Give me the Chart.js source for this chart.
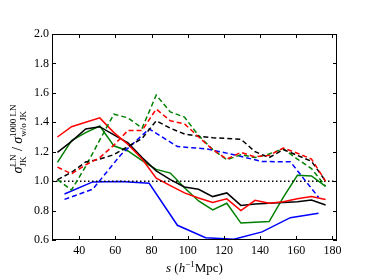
<!DOCTYPE html>
<html>
<head>
<meta charset="utf-8">
<script src="https://cdn.jsdelivr.net/npm/chart.js@4"></script>
<style>
  html, body { margin: 0; padding: 0; background: #fff; }
  #wrap { width: 374px; height: 280px; }
</style>
</head>
<body>
<div id="wrap"><canvas id="sigmaChart" width="374" height="280"></canvas></div>
<script>
// separation bins (fine and coarse binning)
const sFine = [28, 35.8, 43.6, 51.4, 59.2, 67, 74.8, 82.6, 90.4, 98.2, 106, 113.8, 121.6, 129.4, 137.2, 145, 152.8, 160.6, 168.4, 176.2];
const sCoarse = [31.9, 47.5, 63.1, 78.7, 94.3, 109.9, 125.5, 141.1, 156.7, 172.3];

// ratio sigma_JK / sigma_w/o JK, solid curves
const redSolid   = [1.30, 1.37, 1.40, 1.43, 1.33, 1.25, 1.15, 1.02, 0.97, 0.92, 0.885, 0.855, 0.88, 0.80, 0.87, 0.85, 0.86, 0.88, 0.895, 0.875];
const blackSolid = [1.195, 1.27, 1.355, 1.37, 1.315, 1.26, 1.16, 1.07, 1.01, 0.96, 0.945, 0.895, 0.92, 0.835, 0.845, 0.85, 0.855, 0.86, 0.872, 0.838];
const greenSolid = [1.128, 1.275, 1.33, 1.375, 1.24, 1.205, 1.14, 1.08, 1.055, 0.955, 0.865, 0.805, 0.85, 0.715, 0.72, 0.725, 0.89, 1.04, 1.035, 0.965];
const blueSolid  = [0.913, 0.995, 0.997, 0.985, 0.70, 0.615, 0.605, 0.655, 0.752, 0.782];

// dashed curves
const redDashed   = [1.095, 1.05, 1.11, 1.16, 1.245, 1.345, 1.345, 1.49, 1.41, 1.39, 1.30, 1.215, 1.15, 1.195, 1.165, 1.175, 1.225, 1.19, 1.15, 1.0];
const blackDashed = [1.01, 1.06, 1.13, 1.15, 1.18, 1.235, 1.29, 1.41, 1.36, 1.32, 1.305, 1.295, 1.29, 1.285, 1.20, 1.16, 1.215, 1.175, 1.135, 1.0];
const greenDashed = [1.01, 0.94, 1.10, 1.28, 1.455, 1.43, 1.36, 1.585, 1.47, 1.435, 1.31, 1.215, 1.145, 1.18, 1.16, 1.185, 1.22, 1.15, 1.085, 0.965];
const blueDashed  = [0.876, 0.945, 1.18, 1.355, 1.235, 1.22, 1.18, 1.133, 1.132, 0.89];

// axes
const xRange = [25, 182.5];
const yRange = [0.6, 2.0];
const xTicks = [40, 60, 80, 100, 120, 140, 160, 180];
const yTicks = [0.6, 0.8, 1.0, 1.2, 1.4, 1.6, 1.8, 2.0];
const refLevel = 1.0;

const SERIF = "'Liberation Serif', 'DejaVu Serif', serif";

function pts(xs, ys) {
    return ys.map((y, i) => ({ x: xs[i], y: y }));
}

function line(xs, ys, color, dash) {
    return {
        data: pts(xs, ys),
        borderColor: color,
        borderWidth: 1.5,
        borderDash: dash || [],
        pointRadius: 0,
        showLine: true,
        tension: 0,
        fill: false
    };
}

// inward ticks on all four sides, box, and axis titles
const frame = {
    id: 'frame',
    afterDraw(chart) {
        const ctx = chart.ctx;
        const a = chart.chartArea;
        const xs = chart.scales.x, ys = chart.scales.y;
        ctx.save();
        ctx.strokeStyle = '#000';
        ctx.lineWidth = 1;
        ctx.strokeRect(a.left + 0.5, a.top + 0.5, a.right - a.left - 1, a.bottom - a.top - 1);
        const tl = 4;
        ctx.beginPath();
        xTicks.forEach(v => {
            const px = Math.round(xs.getPixelForValue(v)) + 0.5;
            ctx.moveTo(px, a.bottom); ctx.lineTo(px, a.bottom - tl);
            ctx.moveTo(px, a.top); ctx.lineTo(px, a.top + tl);
        });
        yTicks.forEach(v => {
            const py = Math.round(ys.getPixelForValue(v)) + 0.5;
            ctx.moveTo(a.left, py); ctx.lineTo(a.left + tl, py);
            ctx.moveTo(a.right, py); ctx.lineTo(a.right - tl, py);
        });
        ctx.stroke();

        ctx.fillStyle = '#000';
        ctx.textBaseline = 'alphabetic';

        // x title: s (h^-1 Mpc)
        const big = '13px ' + SERIF, bigIt = 'italic 13px ' + SERIF, small = '9px ' + SERIF;
        const xParts = [
            { t: 's', f: bigIt, dy: 0 },
            { t: ' (', f: big, dy: 0 },
            { t: 'h', f: bigIt, dy: 0 },
            { t: '\u22121', f: small, dy: -5 },
            { t: 'Mpc)', f: big, dy: 0 }
        ];
        let w = 0;
        xParts.forEach(p => { ctx.font = p.f; p.w = ctx.measureText(p.t).width; w += p.w; });
        let cx = (a.left + a.right) / 2 - w / 2;
        const base = 272;
        xParts.forEach(p => { ctx.font = p.f; ctx.fillText(p.t, cx, base + p.dy); cx += p.w; });

        // y title: sigma^LN_JK / sigma^{1000 LN}_{w/o JK}
        const sig = 'italic 14px ' + SERIF, scr = '9px ' + SERIF;
        const groups = [
            { main: '\u03c3', sup: 'LN', sub: 'JK' },
            { main: ' / ', sup: '', sub: '' },
            { main: '\u03c3', sup: '1000 LN', sub: 'w/o JK' }
        ];
        let tw = 0;
        groups.forEach(g => {
            ctx.font = g.main === ' / ' ? '14px ' + SERIF : sig;
            g.mw = ctx.measureText(g.main).width;
            ctx.font = scr;
            g.sw = Math.max(ctx.measureText(g.sup).width, ctx.measureText(g.sub).width);
            tw += g.mw + g.sw;
        });
        ctx.translate(22, (a.top + a.bottom) / 2 + 2);
        ctx.rotate(-Math.PI / 2);
        let gx = -tw / 2;
        groups.forEach(g => {
            ctx.font = g.main === ' / ' ? '14px ' + SERIF : sig;
            ctx.fillText(g.main, gx, 0);
            gx += g.mw;
            ctx.font = scr;
            if (g.sup) ctx.fillText(g.sup, gx, -6);
            if (g.sub) ctx.fillText(g.sub, gx, 4);
            gx += g.sw;
        });
        ctx.restore();
    }
};

const ctx = document.getElementById('sigmaChart').getContext('2d');
const sigmaChart = new Chart(ctx, {
    type: 'scatter',
    data: {
        datasets: [
            line(sFine, redDashed, '#ff0000', [5, 3]),
            line(sFine, blackDashed, '#000000', [5, 3]),
            line(sFine, greenDashed, '#008000', [5, 3]),
            line(sCoarse, blueDashed, '#0000ff', [5, 3]),
            line(xRange, [refLevel, refLevel], '#000000', [1.5, 2.5]),
            line(sFine, redSolid, '#ff0000'),
            line(sFine, blackSolid, '#000000'),
            line(sFine, greenSolid, '#008000'),
            line(sCoarse, blueSolid, '#0000ff')
        ]
    },
    options: {
        responsive: false,
        animation: false,
        layout: { padding: { top: 34, right: 37, left: 0, bottom: 0 } },
        plugins: {
            legend: { display: false },
            tooltip: { enabled: false }
        },
        scales: {
            x: {
                type: 'linear',
                min: xRange[0],
                max: xRange[1],
                grid: { display: false, drawTicks: false },
                border: { display: false },
                afterBuildTicks: axis => { axis.ticks = xTicks.map(v => ({ value: v })); },
                afterFit: axis => { axis.height = 40; },
                ticks: {
                    color: '#000',
                    padding: 4,
                    maxRotation: 0,
                    autoSkip: false,
                    font: { family: SERIF, size: 12 }
                }
            },
            y: {
                min: yRange[0],
                max: yRange[1],
                grid: { display: false, drawTicks: false },
                border: { display: false },
                afterBuildTicks: axis => { axis.ticks = yTicks.map(v => ({ value: v })); },
                afterFit: axis => { axis.width = 52; },
                ticks: {
                    color: '#000',
                    padding: 3,
                    autoSkip: false,
                    font: { family: SERIF, size: 12 },
                    callback: v => v.toFixed(1)
                }
            }
        }
    },
    plugins: [frame]
});
</script>
</body>
</html>
